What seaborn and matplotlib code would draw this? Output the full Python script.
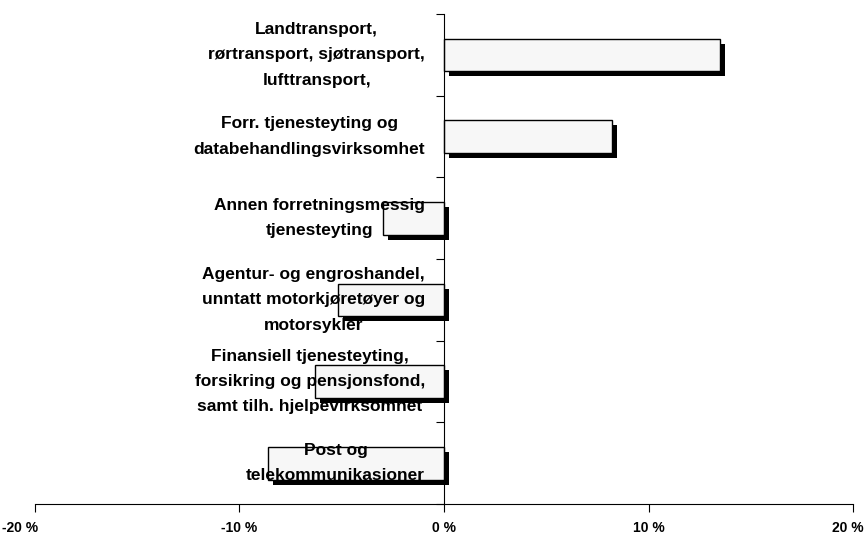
import matplotlib
matplotlib.use("Agg")
import matplotlib.pyplot as plt
import matplotlib.transforms as mtransforms
import seaborn as sns
import pandas as pd
from matplotlib.ticker import FuncFormatter

categories = [
    "Landtransport,\nrørtransport, sjøtransport,\nlufttransport,",
    "Forr. tjenesteyting og\ndatabehandlingsvirksomhet",
    "Annen forretningsmessig\ntjenesteyting",
    "Agentur- og engroshandel,\nunntatt motorkjøretøyer og\nmotorsykler",
    "Finansiell tjenesteyting,\nforsikring og pensjonsfond,\nsamt tilh. hjelpevirksomhet",
    "Post og\ntelekommunikasjoner",
]
values = [13.5, 8.2, -3.0, -5.2, -6.3, -8.6]
xticks = [-20, -10, 0, 10, 20]

df = pd.DataFrame({"cat": categories, "val": values})

sns.set_style("white")
fam = ["Liberation Sans Narrow", "Liberation Sans", "DejaVu Sans"]
plt.rcParams["font.family"] = fam
plt.rcParams["text.color"] = "black"
plt.rcParams["xtick.color"] = "black"
plt.rcParams["ytick.color"] = "black"

fig = plt.figure(figsize=(8.65, 5.36), dpi=100)
ax = fig.add_axes([35 / 865, 1 - 504 / 536, (853 - 35) / 865, (504 - 14) / 536])

# shadow bars
sns.barplot(data=df, y="cat", x="val", orient="h", color="black", width=0.4,
            saturation=1, ax=ax, linewidth=0)
n_shadow = len(ax.patches)
off = mtransforms.offset_copy(ax.transData, fig=fig, x=5, y=-5, units="dots")
for p in ax.patches[:n_shadow]:
    p.set_transform(off)
# main bars
sns.barplot(data=df, y="cat", x="val", orient="h", color="#f7f7f7", width=0.4,
            saturation=1, ax=ax, edgecolor="black", linewidth=1.0)

ax.set_xlim(-20, 20)
ax.set_ylim(len(categories) - 0.5, -0.5)
ax.set_xticks(xticks)
ax.xaxis.set_major_formatter(FuncFormatter(lambda v, pos: f"{int(v)} %"))
ax.set_yticks([i - 0.5 for i in range(len(categories) + 1)])
ax.set_yticklabels([])
ax.set_xlabel("")
ax.set_ylabel("")

for s in ["top", "right"]:
    ax.spines[s].set_visible(False)
ax.spines["left"].set_position(("data", 0))
ax.spines["left"].set_color("black")
ax.spines["bottom"].set_color("black")
ax.spines["left"].set_linewidth(0.8)
ax.spines["bottom"].set_linewidth(0.8)
ax.tick_params(axis="y", direction="out", length=6, width=0.8, color="black", left=True)
ax.tick_params(axis="x", direction="out", length=6, width=0.8, color="black",
               bottom=True, labelsize=10, pad=6, labelcolor="black")

fig.canvas.draw()
xt_labels = ax.xaxis.get_majorticklabels()
for t in xt_labels:
    t.set_fontweight("bold")
xt_labels[0].set_transform(xt_labels[0].get_transform()
                           + mtransforms.ScaledTranslation(-0.15, 0, fig.dpi_scale_trans))
xt_labels[-1].set_transform(xt_labels[-1].get_transform()
                            + mtransforms.ScaledTranslation(-0.05, 0, fig.dpi_scale_trans))

label_off = mtransforms.offset_copy(ax.transData, fig=fig, x=-19, y=0, units="dots")
for i, c in enumerate(categories):
    ax.text(0, i, c, transform=label_off, ha="right", va="center",
            multialignment="center", fontsize=12.5, fontweight="bold",
            linespacing=1.85, zorder=5, family=fam, color="black")

fig.savefig("out.png", dpi=100)
